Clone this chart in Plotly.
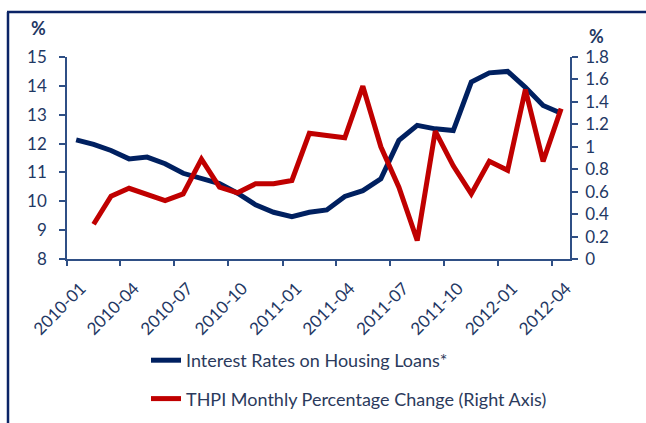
import plotly.graph_objects as go

months = ["2010-01", "2010-02", "2010-03", "2010-04", "2010-05", "2010-06", "2010-07",
          "2010-08", "2010-09", "2010-10", "2010-11", "2010-12", "2011-01", "2011-02",
          "2011-03", "2011-04", "2011-05", "2011-06", "2011-07", "2011-08", "2011-09",
          "2011-10", "2011-11", "2011-12", "2012-01", "2012-02", "2012-03", "2012-04"]

interest_rates = [12.13, 11.97, 11.76, 11.47, 11.53, 11.30, 10.97, 10.78, 10.61, 10.28,
                  9.88, 9.62, 9.47, 9.62, 9.70, 10.17, 10.37, 10.78, 12.11, 12.63,
                  12.51, 12.45, 14.13, 14.45, 14.50, 13.95, 13.32, 13.05]

thpi_change = [None, 0.31, 0.56, 0.63, 0.57, 0.52, 0.58, 0.89, 0.64, 0.59,
               0.67, 0.67, 0.70, 1.12, 1.10, 1.08, 1.54, 1.00, 0.64, 0.165,
               1.14, 0.83, 0.58, 0.87, 0.79, 1.51, 0.87, 1.34]

name_rates = "Interest Rates on Housing Loans*"
name_thpi = "THPI Monthly Percentage Change (Right Axis)"

NAVY = "#002060"
RED = "#C00000"
AXIS = "#2F4F85"
TXT = "#1F3864"
FONT = "Lato, 'Open Sans', sans-serif"

fig = go.Figure()
fig.add_trace(go.Scatter(x=months, y=interest_rates, name=name_rates, mode="lines",
                         xperiod="M1", xperiodalignment="middle",
                         line=dict(color=NAVY, width=5), legendgroup="a"))
fig.add_trace(go.Scatter(x=months, y=thpi_change, name=name_thpi, mode="lines",
                         xperiod="M1", xperiodalignment="middle",
                         line=dict(color=RED, width=5), yaxis="y2", legendgroup="b"))

W, H = 646, 423
L, R, T, B = 67, 76, 57, 164
pw, ph = W - L - R, H - T - B

def px(x):
    return (x - L) / pw

def py(y):
    return (H - B - y) / ph

fig.update_layout(
    width=W, height=H,
    margin=dict(l=L, r=R, t=T, b=B, autoexpand=False),
    paper_bgcolor="white", plot_bgcolor="white",
    font=dict(family=FONT, size=17, color=TXT),
    xaxis=dict(type="date", range=["2010-01-01", "2012-05-01"], automargin=False,
               tick0="2010-01-01", dtick="M3", tickformat="%Y-%m", tickangle=-45,
               ticklabelshift=14, ticklabelstandoff=6,
               showgrid=False, zeroline=False, showline=True, linecolor=AXIS, linewidth=1.5,
               ticks="outside", ticklen=5, tickcolor=AXIS, tickwidth=1.5,
               tickfont=dict(size=17, color=TXT)),
    yaxis=dict(range=[8, 15], dtick=1, showgrid=False, zeroline=False, automargin=False,
               showline=True, linecolor=AXIS, linewidth=1.5,
               ticks="outside", ticklen=6, tickcolor=AXIS, tickwidth=1.5,
               ticklabelstandoff=9,
               tickfont=dict(size=17, color=TXT)),
    yaxis2=dict(range=[0, 1.8], dtick=0.2, overlaying="y", side="right", automargin=False,
                showgrid=False, zeroline=False, showline=True, linecolor=AXIS, linewidth=1.5,
                ticks="outside", ticklen=6, tickcolor=AXIS, tickwidth=1.5,
                ticklabelstandoff=4,
                tickformat="~g", tickfont=dict(size=17, color=TXT)),
    showlegend=True,
    legend=dict(x=px(146), y=py(342), xanchor="left", yanchor="top",
                orientation="v", tracegroupgap=12, bgcolor="rgba(0,0,0,0)",
                font=dict(size=18, color="#2B3A5C")),
    annotations=[
        dict(text="<b>%</b>", x=px(38), y=py(28), xref="paper", yref="paper",
             xanchor="center", yanchor="middle",
             showarrow=False, font=dict(size=18, color=TXT)),
        dict(text="<b>%</b>", x=px(596), y=py(36), xref="paper", yref="paper",
             xanchor="center", yanchor="middle",
             showarrow=False, font=dict(size=18, color=TXT)),
    ],
    shapes=[
        dict(type="line", xref="paper", yref="paper", x0=px(7), x1=px(646),
             y0=py(12), y1=py(12), line=dict(color="#0B2466", width=2.5)),
        dict(type="line", xref="paper", yref="paper", x0=px(8), x1=px(8),
             y0=py(12), y1=py(423), line=dict(color="#0B2466", width=2.5)),
    ],
)

fig.write_html("out.html", config={"displayModeBar": False},
               post_script="document.body.style.margin='0';document.body.style.overflow='hidden';")
